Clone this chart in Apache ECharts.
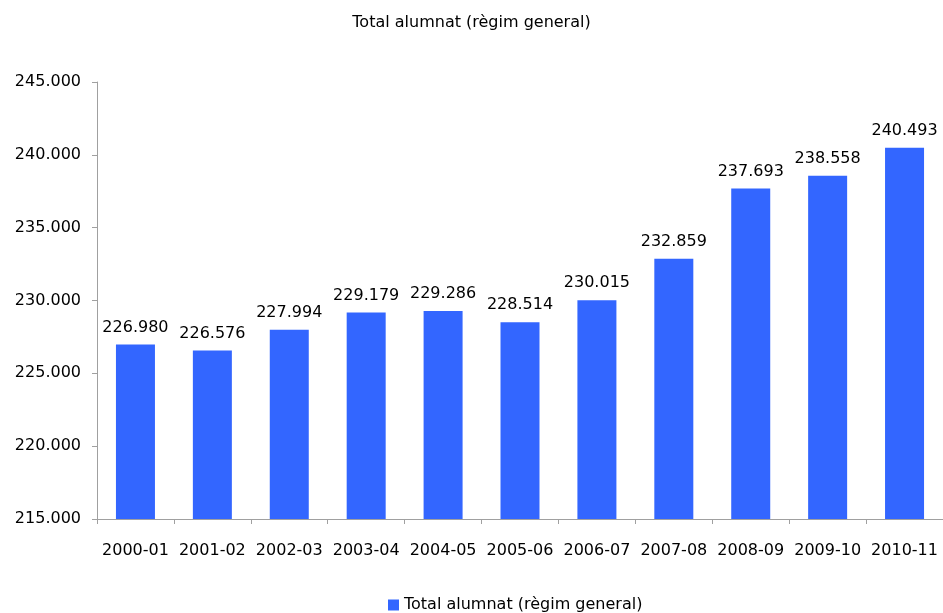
<!DOCTYPE html>
<html><head><meta charset="utf-8">
<script src="https://cdn.jsdelivr.net/npm/echarts@6/dist/echarts.min.js"></script>
<style>html,body{margin:0;padding:0;background:#fff}#c{width:943px;height:613px}</style>
</head><body><div id="c"></div>
<script>
const categories = ['2000-01','2001-02','2002-03','2003-04','2004-05','2005-06','2006-07','2007-08','2008-09','2009-10','2010-11'];
const values = [226980,226576,227994,229179,229286,228514,230015,232859,237693,238558,240493];
const seriesName = 'Total alumnat (règim general)';
const fmt = v => String(v).replace(/\B(?=(\d{3})+(?!\d))/g, '.');
const chart = echarts.init(document.getElementById('c'));
const font = 'DejaVu Sans';
chart.setOption({
  animation: false,
  title: {text: seriesName, left: 'center', top: 10, textStyle: {fontFamily: font, fontSize: 16, fontWeight: 'normal', color: '#000'}},
  legend: {bottom: -5, left: 383, itemWidth: 11, itemHeight: 11, itemGap: 3, icon: 'rect',
    textStyle: {fontFamily: font, fontSize: 16, color: '#000'}},
  grid: {left: 97, top: 82, width: 850, height: 437, containLabel: false},
  xAxis: {type: 'category', data: categories,
    axisLine: {lineStyle: {color: '#A0A0A0'}},
    axisTick: {show: true, interval: 0, length: 5, lineStyle: {color: '#A0A0A0'}},
    axisLabel: {interval: 0, fontFamily: font, fontSize: 16, color: '#000', margin: 24}},
  yAxis: {type: 'value', min: 215000, max: 245000, interval: 5000,
    axisLine: {show: true, lineStyle: {color: '#A0A0A0'}},
    axisTick: {show: true, length: 5, lineStyle: {color: '#A0A0A0'}},
    splitLine: {show: false},
    axisLabel: {fontFamily: font, fontSize: 16, color: '#000', margin: 16, formatter: fmt}},
  series: [{name: seriesName, type: 'bar', data: values, barWidth: 39,
    itemStyle: {color: '#3366FF'},
    label: {show: true, position: 'top', distance: 9, fontFamily: font, fontSize: 16, color: '#000', formatter: p => fmt(p.value)}}]
});
</script></body></html>
